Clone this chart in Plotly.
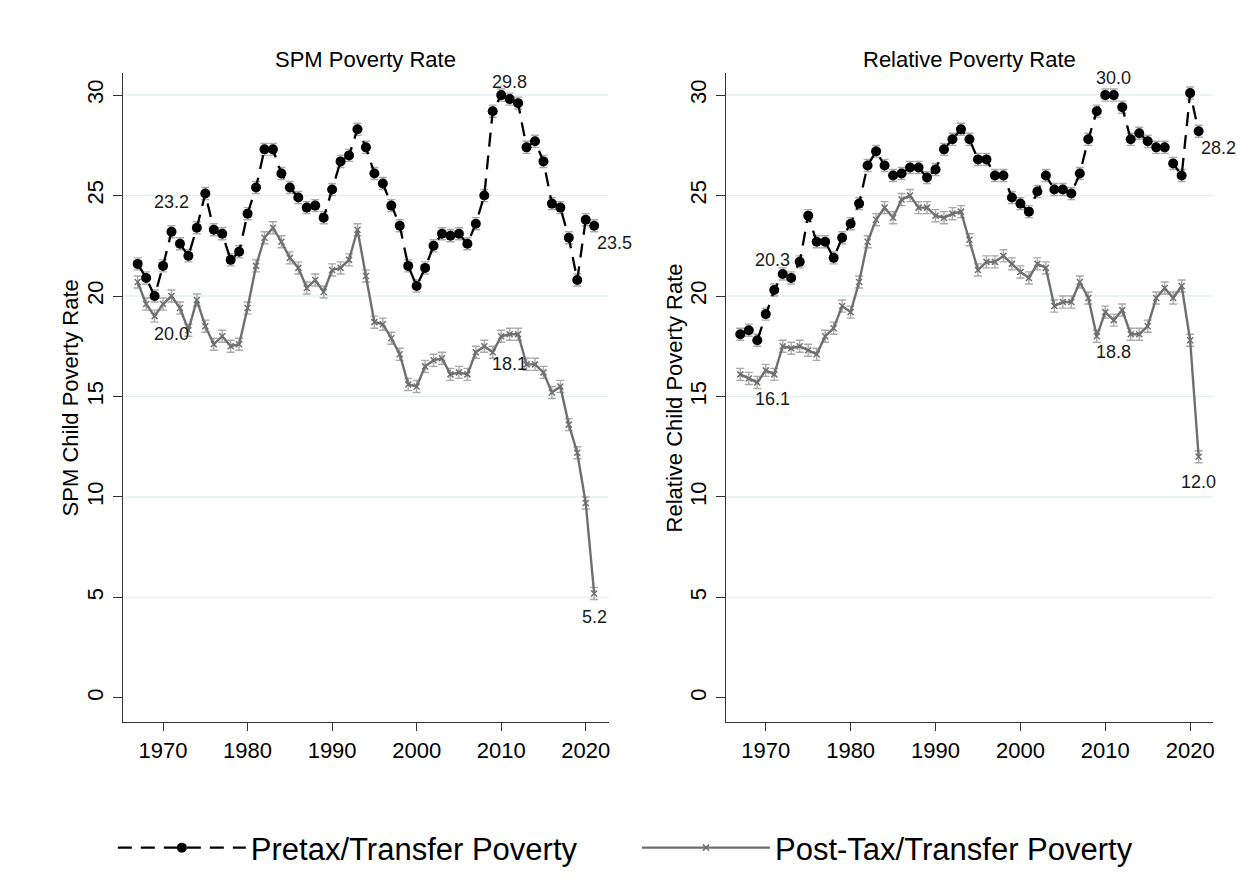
import plotly.graph_objects as go

# ---------------- data ----------------
years = list(range(1967, 2022))

spm_pretax = [21.6, 20.9, 20.0, 21.5, 23.2, 22.6, 22.0, 23.4, 25.1, 23.3,
              23.1, 21.8, 22.2, 24.1, 25.4, 27.3, 27.3, 26.1, 25.4, 24.9,
              24.4, 24.5, 23.9, 25.3, 26.7, 27.0, 28.3, 27.4, 26.1, 25.6,
              24.5, 23.5, 21.5, 20.5, 21.4, 22.5, 23.1, 23.0, 23.1, 22.6,
              23.6, 25.0, 29.2, 30.0, 29.8, 29.6, 27.4, 27.7, 26.7, 24.6,
              24.4, 22.9, 20.8, 23.8, 23.5]

spm_posttax = [20.7, 19.6, 19.0, 19.6, 20.0, 19.4, 18.3, 19.8, 18.5, 17.6,
               18.0, 17.5, 17.6, 19.4, 21.5, 22.9, 23.4, 22.7, 21.9, 21.4,
               20.4, 20.8, 20.2, 21.3, 21.4, 21.8, 23.3, 21.0, 18.7, 18.6,
               17.9, 17.1, 15.6, 15.5, 16.5, 16.8, 16.9, 16.1, 16.2, 16.1,
               17.2, 17.5, 17.2, 18.0, 18.1, 18.1, 16.6, 16.6, 16.2, 15.2,
               15.5, 13.6, 12.2, 9.7, 5.2]

rel_pretax = [18.1, 18.3, 17.8, 19.1, 20.3, 21.1, 20.9, 21.7, 24.0, 22.7,
              22.7, 21.9, 22.9, 23.6, 24.6, 26.5, 27.2, 26.5, 26.0, 26.1,
              26.4, 26.4, 25.9, 26.3, 27.3, 27.8, 28.3, 27.8, 26.8, 26.8,
              26.0, 26.0, 24.9, 24.6, 24.2, 25.2, 26.0, 25.3, 25.3, 25.1,
              26.1, 27.8, 29.2, 30.0, 30.0, 29.4, 27.8, 28.1, 27.7, 27.4,
              27.4, 26.6, 26.0, 30.1, 28.2]

rel_posttax = [16.1, 15.9, 15.7, 16.3, 16.1, 17.5, 17.4, 17.5, 17.3, 17.1,
               18.0, 18.4, 19.5, 19.2, 20.7, 22.7, 23.8, 24.4, 23.9, 24.8,
               25.0, 24.4, 24.4, 24.0, 23.9, 24.1, 24.2, 22.8, 21.3, 21.7,
               21.7, 22.0, 21.6, 21.2, 20.9, 21.6, 21.4, 19.5, 19.7, 19.7,
               20.7, 19.9, 18.0, 19.2, 18.8, 19.3, 18.1, 18.1, 18.5, 19.9,
               20.4, 19.9, 20.5, 17.8, 12.0]

x_ticks = [1970, 1980, 1990, 2000, 2010, 2020]
y_ticks = [0, 5, 10, 15, 20, 25, 30]
grid_vals = [5, 10, 15, 20, 25, 30]

panel_titles = ["SPM Poverty Rate", "Relative Poverty Rate"]
y_titles = ["SPM Child Poverty Rate", "Relative Child Poverty Rate"]
series_names = ["Pretax/Transfer Poverty", "Post-Tax/Transfer Poverty"]

# labelled points: (year, series)  series 0 = pretax, 1 = post-tax
label_points = [(1971, 0), (1971, 1), (2011, 0), (2011, 1), (2021, 0), (2021, 1)]

# ---------------- styling ----------------
FONT = "Liberation Sans, Arial, sans-serif"
W, H = 1254, 884
OFF = 8  # page body margin of the exported html


def px_x(p):
    return (p - OFF) / W


def px_y(p):
    return 1 - (p - OFF) / H


dom_x = [[px_x(123.5), px_x(609.5)], [px_x(727.0), px_x(1215.0)]]
dom_y = [px_y(722), px_y(73)]
ytitle_px = [71, 676]
# pixel offsets of the labels (xshift, yshift) per panel, same order as label_points
label_offsets = [
    [(0, 30), (0, -38), (0, 17), (0, -30), (20, -17), (0, -24)],
    [(-2, 30), (-2, -25), (0, 17), (0, -32), (20, -17), (0, -25)],
]

PRE_COLOR = "black"
POST_COLOR = "#6f6f6f"
CI_COLOR = "#a9a9a9"

fig = go.Figure()
panels = [(spm_pretax, spm_posttax), (rel_pretax, rel_posttax)]

for i, (pre, post) in enumerate(panels):
    xa = "x" if i == 0 else "x2"
    ya = "y" if i == 0 else "y2"
    fig.add_trace(go.Scatter(
        x=years, y=post, xaxis=xa, yaxis=ya, mode="lines+markers",
        name=series_names[1], legend="legend2", showlegend=(i == 0),
        line=dict(color=POST_COLOR, width=2.4),
        marker=dict(symbol="x-thin", size=6, color=POST_COLOR,
                    line=dict(color=POST_COLOR, width=1.5)),
        error_y=dict(type="constant", value=0.3, color=CI_COLOR, thickness=1.4, width=4),
    ))
    fig.add_trace(go.Scatter(
        x=years, y=pre, xaxis=xa, yaxis=ya, mode="lines+markers",
        name=series_names[0], legend="legend", showlegend=(i == 0),
        line=dict(color=PRE_COLOR, width=2.3, dash="14px,9px"),
        marker=dict(symbol="circle", size=10, color=PRE_COLOR),
        error_y=dict(type="constant", value=0.3, color=CI_COLOR, thickness=1.4, width=4),
    ))
    for (yr, s), (dx, dy) in zip(label_points, label_offsets[i]):
        vals = pre if s == 0 else post
        v = vals[years.index(yr)]
        fig.add_annotation(x=yr, y=v, xref=xa, yref=ya, text=f"{v:.1f}",
                           showarrow=False, xshift=dx, yshift=dy,
                           font=dict(family=FONT, size=18, color="#1a1a1a"))
    for g in grid_vals:
        fig.add_shape(type="line", xref=f"{xa} domain", yref=ya, x0=0, x1=1, y0=g, y1=g,
                      line=dict(color="#e6eff1", width=1.5), layer="below")
    fig.add_annotation(x=sum(dom_x[i]) / 2, y=px_y(59), xref="paper", yref="paper",
                       text=panel_titles[i], showarrow=False, xanchor="center", yanchor="middle",
                       font=dict(family=FONT, size=22, color="black"))
    fig.add_annotation(x=px_x(ytitle_px[i]), y=sum(dom_y) / 2, xref="paper", yref="paper",
                       text=y_titles[i], showarrow=False, textangle=-90,
                       xanchor="center", yanchor="middle",
                       font=dict(family=FONT, size=22, color="black"))

axis_common = dict(showline=True, linecolor="#333333", linewidth=1.3, ticks="outside",
                   tickcolor="#333333", tickwidth=1.3, showgrid=False, zeroline=False,
                   tickfont=dict(family=FONT, size=22, color="black"))

for i in range(2):
    sx = "" if i == 0 else "2"
    fig.update_layout(**{
        f"xaxis{sx}": dict(domain=dom_x[i], range=[1965.3, 2022.7], tickvals=x_ticks,
                           ticklen=8, anchor="y" + sx, **axis_common),
        f"yaxis{sx}": dict(domain=dom_y, range=[-1.2, 31.1], tickvals=y_ticks,
                           tickangle=-90, ticklen=9, anchor="x" + sx,
                           ticklabelstandoff=1, **axis_common),
    })

legend_common = dict(orientation="h", yanchor="middle", xanchor="left", itemwidth=128,
                     bgcolor="rgba(0,0,0,0)", font=dict(family=FONT, size=31, color="black"))
fig.update_layout(
    width=W, height=H,
    margin=dict(l=0, r=0, t=0, b=0),
    paper_bgcolor="white", plot_bgcolor="white",
    font=dict(family=FONT, color="black"),
    legend=dict(x=px_x(118 - 5), y=px_y(848), **legend_common),
    legend2=dict(x=px_x(643 - 5), y=px_y(848), **legend_common),
)

fig.write_html("out.html")
